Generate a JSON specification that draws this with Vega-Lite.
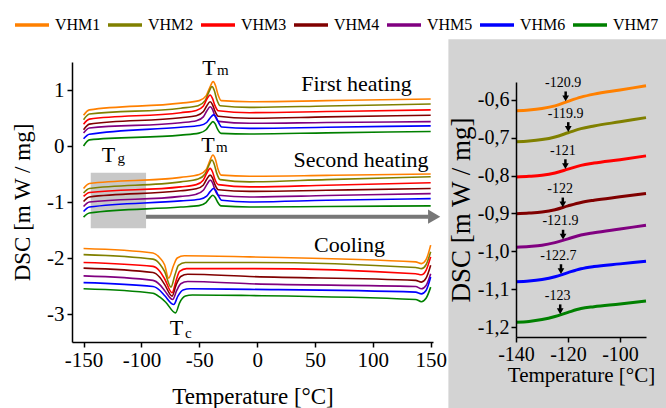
{
"$schema": "https://vega.github.io/schema/vega-lite/v6.json",
"autosize": {"type": "none"},
"padding": {"left": 72, "top": 62, "right": 594, "bottom": 346},
"config": {
  "view": {"stroke": null},
  "font": "Liberation Serif, serif",
  "style": {"guide-label": {"font": "Liberation Serif, serif"}, "guide-title": {"font": "Liberation Serif, serif"}},
  "axis": {"labelFont": "Liberation Serif, serif", "titleFont": "Liberation Serif, serif", "labelColor": "black", "titleColor": "black", "domainColor": "black", "tickColor": "black", "grid": false, "titleFontWeight": "normal", "domainWidth": 1.5, "tickWidth": 1.5, "labelFlush": false, "labelOverlap": false},
  "legend": {"labelFont": "Liberation Serif"},
  "text": {"font": "Liberation Serif, serif", "color": "black"}
},
"datasets": {
  "dsc": [
{"s":"VHM1","g":"h1","t":-150,"v":0.55},{"s":"VHM1","g":"h1","t":-145,"v":0.645},{"s":"VHM1","g":"h1","t":-66,"v":0.765},{"s":"VHM1","g":"h1","t":-50,"v":0.81},{"s":"VHM1","g":"h1","t":-44,"v":0.9},{"s":"VHM1","g":"h1","t":-41,"v":1.04},{"s":"VHM1","g":"h1","t":-38,"v":1.15},{"s":"VHM1","g":"h1","t":-36,"v":1.08},{"s":"VHM1","g":"h1","t":-34,"v":0.93},{"s":"VHM1","g":"h1","t":-31,"v":0.81},{"s":"VHM1","g":"h1","t":-6.5,"v":0.79},{"s":"VHM1","g":"h1","t":60,"v":0.81},{"s":"VHM1","g":"h1","t":150,"v":0.84},
{"s":"VHM2","g":"h1","t":-150,"v":0.47},{"s":"VHM2","g":"h1","t":-145,"v":0.57},{"s":"VHM2","g":"h1","t":-66,"v":0.675},{"s":"VHM2","g":"h1","t":-51,"v":0.72},{"s":"VHM2","g":"h1","t":-45,"v":0.81},{"s":"VHM2","g":"h1","t":-42,"v":0.95},{"s":"VHM2","g":"h1","t":-39,"v":1.06},{"s":"VHM2","g":"h1","t":-37,"v":0.99},{"s":"VHM2","g":"h1","t":-35,"v":0.84},{"s":"VHM2","g":"h1","t":-32,"v":0.72},{"s":"VHM2","g":"h1","t":-6.5,"v":0.69},{"s":"VHM2","g":"h1","t":60,"v":0.715},{"s":"VHM2","g":"h1","t":150,"v":0.75},
{"s":"VHM3","g":"h1","t":-150,"v":0.39},{"s":"VHM3","g":"h1","t":-145,"v":0.48},{"s":"VHM3","g":"h1","t":-66,"v":0.595},{"s":"VHM3","g":"h1","t":-52.6,"v":0.635},{"s":"VHM3","g":"h1","t":-46.6,"v":0.71},{"s":"VHM3","g":"h1","t":-43.6,"v":0.83},{"s":"VHM3","g":"h1","t":-40.6,"v":0.91},{"s":"VHM3","g":"h1","t":-38.6,"v":0.85},{"s":"VHM3","g":"h1","t":-36.6,"v":0.73},{"s":"VHM3","g":"h1","t":-33.6,"v":0.63},{"s":"VHM3","g":"h1","t":-6.5,"v":0.595},{"s":"VHM3","g":"h1","t":60,"v":0.615},{"s":"VHM3","g":"h1","t":150,"v":0.645},
{"s":"VHM4","g":"h1","t":-150,"v":0.29},{"s":"VHM4","g":"h1","t":-145,"v":0.39},{"s":"VHM4","g":"h1","t":-66,"v":0.505},{"s":"VHM4","g":"h1","t":-52.6,"v":0.54},{"s":"VHM4","g":"h1","t":-46.6,"v":0.61},{"s":"VHM4","g":"h1","t":-43.6,"v":0.715},{"s":"VHM4","g":"h1","t":-40.6,"v":0.79},{"s":"VHM4","g":"h1","t":-38.6,"v":0.74},{"s":"VHM4","g":"h1","t":-36.6,"v":0.63},{"s":"VHM4","g":"h1","t":-33.6,"v":0.53},{"s":"VHM4","g":"h1","t":-6.5,"v":0.495},{"s":"VHM4","g":"h1","t":60,"v":0.52},{"s":"VHM4","g":"h1","t":150,"v":0.55},
{"s":"VHM5","g":"h1","t":-150,"v":0.23},{"s":"VHM5","g":"h1","t":-145,"v":0.32},{"s":"VHM5","g":"h1","t":-66,"v":0.415},{"s":"VHM5","g":"h1","t":-52.5,"v":0.45},{"s":"VHM5","g":"h1","t":-46.5,"v":0.52},{"s":"VHM5","g":"h1","t":-43.5,"v":0.625},{"s":"VHM5","g":"h1","t":-40.5,"v":0.7},{"s":"VHM5","g":"h1","t":-38.5,"v":0.65},{"s":"VHM5","g":"h1","t":-36.5,"v":0.54},{"s":"VHM5","g":"h1","t":-33.5,"v":0.44},{"s":"VHM5","g":"h1","t":-6.5,"v":0.405},{"s":"VHM5","g":"h1","t":60,"v":0.42},{"s":"VHM5","g":"h1","t":150,"v":0.435},
{"s":"VHM6","g":"h1","t":-150,"v":0.13},{"s":"VHM6","g":"h1","t":-145,"v":0.21},{"s":"VHM6","g":"h1","t":-66,"v":0.335},{"s":"VHM6","g":"h1","t":-49.6,"v":0.365},{"s":"VHM6","g":"h1","t":-43.6,"v":0.42},{"s":"VHM6","g":"h1","t":-40.6,"v":0.5},{"s":"VHM6","g":"h1","t":-37.6,"v":0.555},{"s":"VHM6","g":"h1","t":-35.6,"v":0.52},{"s":"VHM6","g":"h1","t":-33.6,"v":0.43},{"s":"VHM6","g":"h1","t":-30.6,"v":0.34},{"s":"VHM6","g":"h1","t":-6.5,"v":0.315},{"s":"VHM6","g":"h1","t":60,"v":0.335},{"s":"VHM6","g":"h1","t":150,"v":0.36},
{"s":"VHM7","g":"h1","t":-150,"v":0.0},{"s":"VHM7","g":"h1","t":-145,"v":0.11},{"s":"VHM7","g":"h1","t":-66,"v":0.195},{"s":"VHM7","g":"h1","t":-50.2,"v":0.23},{"s":"VHM7","g":"h1","t":-44.2,"v":0.29},{"s":"VHM7","g":"h1","t":-41.2,"v":0.37},{"s":"VHM7","g":"h1","t":-38.2,"v":0.435},{"s":"VHM7","g":"h1","t":-36.2,"v":0.395},{"s":"VHM7","g":"h1","t":-34.2,"v":0.3},{"s":"VHM7","g":"h1","t":-31.2,"v":0.225},{"s":"VHM7","g":"h1","t":-6.5,"v":0.215},{"s":"VHM7","g":"h1","t":60,"v":0.235},{"s":"VHM7","g":"h1","t":150,"v":0.26},
{"s":"VHM1","g":"h2","t":-150,"v":-0.76},{"s":"VHM1","g":"h2","t":-145,"v":-0.67},{"s":"VHM1","g":"h2","t":-66,"v":-0.56},{"s":"VHM1","g":"h2","t":-50,"v":-0.51},{"s":"VHM1","g":"h2","t":-44,"v":-0.42},{"s":"VHM1","g":"h2","t":-41,"v":-0.27},{"s":"VHM1","g":"h2","t":-38.2,"v":-0.16},{"s":"VHM1","g":"h2","t":-36,"v":-0.24},{"s":"VHM1","g":"h2","t":-34,"v":-0.4},{"s":"VHM1","g":"h2","t":-31,"v":-0.52},{"s":"VHM1","g":"h2","t":-6.5,"v":-0.54},{"s":"VHM1","g":"h2","t":60,"v":-0.525},{"s":"VHM1","g":"h2","t":150,"v":-0.5},
{"s":"VHM2","g":"h2","t":-150,"v":-0.84},{"s":"VHM2","g":"h2","t":-145,"v":-0.76},{"s":"VHM2","g":"h2","t":-66,"v":-0.64},{"s":"VHM2","g":"h2","t":-51,"v":-0.59},{"s":"VHM2","g":"h2","t":-45,"v":-0.5},{"s":"VHM2","g":"h2","t":-42,"v":-0.36},{"s":"VHM2","g":"h2","t":-39,"v":-0.25},{"s":"VHM2","g":"h2","t":-37,"v":-0.33},{"s":"VHM2","g":"h2","t":-35,"v":-0.48},{"s":"VHM2","g":"h2","t":-32,"v":-0.6},{"s":"VHM2","g":"h2","t":-6.5,"v":-0.64},{"s":"VHM2","g":"h2","t":60,"v":-0.6},{"s":"VHM2","g":"h2","t":150,"v":-0.55},
{"s":"VHM3","g":"h2","t":-150,"v":-0.9},{"s":"VHM3","g":"h2","t":-145,"v":-0.83},{"s":"VHM3","g":"h2","t":-66,"v":-0.73},{"s":"VHM3","g":"h2","t":-52.6,"v":-0.69},{"s":"VHM3","g":"h2","t":-46.6,"v":-0.61},{"s":"VHM3","g":"h2","t":-43.6,"v":-0.49},{"s":"VHM3","g":"h2","t":-40.6,"v":-0.4},{"s":"VHM3","g":"h2","t":-38.6,"v":-0.46},{"s":"VHM3","g":"h2","t":-36.6,"v":-0.59},{"s":"VHM3","g":"h2","t":-33.6,"v":-0.69},{"s":"VHM3","g":"h2","t":-6.5,"v":-0.73},{"s":"VHM3","g":"h2","t":60,"v":-0.7},{"s":"VHM3","g":"h2","t":150,"v":-0.655},
{"s":"VHM4","g":"h2","t":-150,"v":-0.99},{"s":"VHM4","g":"h2","t":-145,"v":-0.91},{"s":"VHM4","g":"h2","t":-66,"v":-0.8},{"s":"VHM4","g":"h2","t":-52.6,"v":-0.765},{"s":"VHM4","g":"h2","t":-46.6,"v":-0.7},{"s":"VHM4","g":"h2","t":-43.6,"v":-0.595},{"s":"VHM4","g":"h2","t":-40.6,"v":-0.52},{"s":"VHM4","g":"h2","t":-38.6,"v":-0.57},{"s":"VHM4","g":"h2","t":-36.6,"v":-0.68},{"s":"VHM4","g":"h2","t":-33.6,"v":-0.78},{"s":"VHM4","g":"h2","t":-6.5,"v":-0.81},{"s":"VHM4","g":"h2","t":60,"v":-0.79},{"s":"VHM4","g":"h2","t":150,"v":-0.76},
{"s":"VHM5","g":"h2","t":-150,"v":-1.08},{"s":"VHM5","g":"h2","t":-145,"v":-1.0},{"s":"VHM5","g":"h2","t":-66,"v":-0.9},{"s":"VHM5","g":"h2","t":-52.5,"v":-0.86},{"s":"VHM5","g":"h2","t":-46.5,"v":-0.79},{"s":"VHM5","g":"h2","t":-43.5,"v":-0.69},{"s":"VHM5","g":"h2","t":-40.5,"v":-0.61},{"s":"VHM5","g":"h2","t":-38.5,"v":-0.66},{"s":"VHM5","g":"h2","t":-36.5,"v":-0.78},{"s":"VHM5","g":"h2","t":-33.5,"v":-0.88},{"s":"VHM5","g":"h2","t":-6.5,"v":-0.91},{"s":"VHM5","g":"h2","t":60,"v":-0.885},{"s":"VHM5","g":"h2","t":150,"v":-0.85},
{"s":"VHM6","g":"h2","t":-150,"v":-1.17},{"s":"VHM6","g":"h2","t":-145,"v":-1.09},{"s":"VHM6","g":"h2","t":-66,"v":-0.98},{"s":"VHM6","g":"h2","t":-49.6,"v":-0.95},{"s":"VHM6","g":"h2","t":-43.6,"v":-0.895},{"s":"VHM6","g":"h2","t":-40.6,"v":-0.815},{"s":"VHM6","g":"h2","t":-37.6,"v":-0.76},{"s":"VHM6","g":"h2","t":-35.6,"v":-0.8},{"s":"VHM6","g":"h2","t":-33.6,"v":-0.885},{"s":"VHM6","g":"h2","t":-30.6,"v":-0.97},{"s":"VHM6","g":"h2","t":-6.5,"v":-1.0},{"s":"VHM6","g":"h2","t":60,"v":-0.97},{"s":"VHM6","g":"h2","t":150,"v":-0.94},
{"s":"VHM7","g":"h2","t":-150,"v":-1.27},{"s":"VHM7","g":"h2","t":-145,"v":-1.195},{"s":"VHM7","g":"h2","t":-66,"v":-1.09},{"s":"VHM7","g":"h2","t":-50.2,"v":-1.065},{"s":"VHM7","g":"h2","t":-44.2,"v":-1.01},{"s":"VHM7","g":"h2","t":-41.2,"v":-0.935},{"s":"VHM7","g":"h2","t":-38.2,"v":-0.88},{"s":"VHM7","g":"h2","t":-36.2,"v":-0.92},{"s":"VHM7","g":"h2","t":-34.2,"v":-1.0},{"s":"VHM7","g":"h2","t":-31.2,"v":-1.07},{"s":"VHM7","g":"h2","t":-6.5,"v":-1.09},{"s":"VHM7","g":"h2","t":60,"v":-1.08},{"s":"VHM7","g":"h2","t":150,"v":-1.07},
{"s":"VHM1","g":"c","t":-150,"v":-1.83},{"s":"VHM1","g":"c","t":-90,"v":-1.91},{"s":"VHM1","g":"c","t":-84,"v":-2.0},{"s":"VHM1","g":"c","t":-80,"v":-2.12},{"s":"VHM1","g":"c","t":-76.5,"v":-2.36},{"s":"VHM1","g":"c","t":-72,"v":-2.12},{"s":"VHM1","g":"c","t":-69,"v":-2.0},{"s":"VHM1","g":"c","t":-63,"v":-1.96},{"s":"VHM1","g":"c","t":-6.5,"v":-1.98},{"s":"VHM1","g":"c","t":137,"v":-2.07},{"s":"VHM1","g":"c","t":142,"v":-2.1},{"s":"VHM1","g":"c","t":146,"v":-2.03},{"s":"VHM1","g":"c","t":150,"v":-1.77},
{"s":"VHM2","g":"c","t":-150,"v":-1.94},{"s":"VHM2","g":"c","t":-90,"v":-2.02},{"s":"VHM2","g":"c","t":-84,"v":-2.11},{"s":"VHM2","g":"c","t":-80,"v":-2.24},{"s":"VHM2","g":"c","t":-74.5,"v":-2.52},{"s":"VHM2","g":"c","t":-71,"v":-2.3},{"s":"VHM2","g":"c","t":-68,"v":-2.13},{"s":"VHM2","g":"c","t":-62,"v":-2.08},{"s":"VHM2","g":"c","t":-6.5,"v":-2.08},{"s":"VHM2","g":"c","t":137,"v":-2.17},{"s":"VHM2","g":"c","t":142,"v":-2.19},{"s":"VHM2","g":"c","t":146,"v":-2.12},{"s":"VHM2","g":"c","t":150,"v":-1.89},
{"s":"VHM3","g":"c","t":-150,"v":-2.08},{"s":"VHM3","g":"c","t":-90,"v":-2.15},{"s":"VHM3","g":"c","t":-84,"v":-2.24},{"s":"VHM3","g":"c","t":-80,"v":-2.37},{"s":"VHM3","g":"c","t":-73.5,"v":-2.62},{"s":"VHM3","g":"c","t":-70,"v":-2.4},{"s":"VHM3","g":"c","t":-67,"v":-2.24},{"s":"VHM3","g":"c","t":-61,"v":-2.19},{"s":"VHM3","g":"c","t":-6.5,"v":-2.19},{"s":"VHM3","g":"c","t":137,"v":-2.28},{"s":"VHM3","g":"c","t":142,"v":-2.3},{"s":"VHM3","g":"c","t":146,"v":-2.22},{"s":"VHM3","g":"c","t":150,"v":-1.98},
{"s":"VHM4","g":"c","t":-150,"v":-2.18},{"s":"VHM4","g":"c","t":-90,"v":-2.26},{"s":"VHM4","g":"c","t":-84,"v":-2.35},{"s":"VHM4","g":"c","t":-80,"v":-2.47},{"s":"VHM4","g":"c","t":-73.5,"v":-2.68},{"s":"VHM4","g":"c","t":-70,"v":-2.48},{"s":"VHM4","g":"c","t":-66,"v":-2.33},{"s":"VHM4","g":"c","t":-60,"v":-2.29},{"s":"VHM4","g":"c","t":-6.5,"v":-2.33},{"s":"VHM4","g":"c","t":137,"v":-2.4},{"s":"VHM4","g":"c","t":142,"v":-2.43},{"s":"VHM4","g":"c","t":146,"v":-2.36},{"s":"VHM4","g":"c","t":150,"v":-2.13},
{"s":"VHM5","g":"c","t":-150,"v":-2.32},{"s":"VHM5","g":"c","t":-90,"v":-2.4},{"s":"VHM5","g":"c","t":-84,"v":-2.48},{"s":"VHM5","g":"c","t":-80,"v":-2.58},{"s":"VHM5","g":"c","t":-73,"v":-2.74},{"s":"VHM5","g":"c","t":-69.5,"v":-2.58},{"s":"VHM5","g":"c","t":-66,"v":-2.46},{"s":"VHM5","g":"c","t":-60,"v":-2.42},{"s":"VHM5","g":"c","t":-6.5,"v":-2.46},{"s":"VHM5","g":"c","t":137,"v":-2.51},{"s":"VHM5","g":"c","t":142,"v":-2.55},{"s":"VHM5","g":"c","t":146,"v":-2.49},{"s":"VHM5","g":"c","t":150,"v":-2.28},
{"s":"VHM6","g":"c","t":-150,"v":-2.44},{"s":"VHM6","g":"c","t":-90,"v":-2.51},{"s":"VHM6","g":"c","t":-84,"v":-2.58},{"s":"VHM6","g":"c","t":-80,"v":-2.67},{"s":"VHM6","g":"c","t":-72,"v":-2.83},{"s":"VHM6","g":"c","t":-68.5,"v":-2.68},{"s":"VHM6","g":"c","t":-64,"v":-2.57},{"s":"VHM6","g":"c","t":-58,"v":-2.55},{"s":"VHM6","g":"c","t":-6.5,"v":-2.56},{"s":"VHM6","g":"c","t":137,"v":-2.61},{"s":"VHM6","g":"c","t":142,"v":-2.64},{"s":"VHM6","g":"c","t":146,"v":-2.58},{"s":"VHM6","g":"c","t":150,"v":-2.34},
{"s":"VHM7","g":"c","t":-150,"v":-2.55},{"s":"VHM7","g":"c","t":-90,"v":-2.63},{"s":"VHM7","g":"c","t":-84,"v":-2.7},{"s":"VHM7","g":"c","t":-79,"v":-2.79},{"s":"VHM7","g":"c","t":-70.5,"v":-2.98},{"s":"VHM7","g":"c","t":-67,"v":-2.8},{"s":"VHM7","g":"c","t":-62,"v":-2.68},{"s":"VHM7","g":"c","t":-56,"v":-2.66},{"s":"VHM7","g":"c","t":-6.5,"v":-2.67},{"s":"VHM7","g":"c","t":137,"v":-2.74},{"s":"VHM7","g":"c","t":142,"v":-2.78},{"s":"VHM7","g":"c","t":146,"v":-2.72},{"s":"VHM7","g":"c","t":150,"v":-2.52}
  ],
  "tg": [
{"s":"VHM1","t":-140,"v":-0.629},{"s":"VHM1","t":-135,"v":-0.627},{"s":"VHM1","t":-130,"v":-0.623},{"s":"VHM1","t":-125,"v":-0.616},{"s":"VHM1","t":-120,"v":-0.604},{"s":"VHM1","t":-115,"v":-0.593},{"s":"VHM1","t":-110,"v":-0.585},{"s":"VHM1","t":-100,"v":-0.574},{"s":"VHM1","t":-90,"v":-0.563},
{"s":"VHM2","t":-140,"v":-0.711},{"s":"VHM2","t":-135,"v":-0.709},{"s":"VHM2","t":-130,"v":-0.705},{"s":"VHM2","t":-125,"v":-0.698},{"s":"VHM2","t":-120,"v":-0.687},{"s":"VHM2","t":-115,"v":-0.676},{"s":"VHM2","t":-110,"v":-0.669},{"s":"VHM2","t":-100,"v":-0.658},{"s":"VHM2","t":-90,"v":-0.647},
{"s":"VHM3","t":-140,"v":-0.804},{"s":"VHM3","t":-135,"v":-0.802},{"s":"VHM3","t":-130,"v":-0.799},{"s":"VHM3","t":-125,"v":-0.793},{"s":"VHM3","t":-120,"v":-0.783},{"s":"VHM3","t":-115,"v":-0.773},{"s":"VHM3","t":-110,"v":-0.767},{"s":"VHM3","t":-100,"v":-0.758},{"s":"VHM3","t":-90,"v":-0.748},
{"s":"VHM4","t":-140,"v":-0.901},{"s":"VHM4","t":-135,"v":-0.899},{"s":"VHM4","t":-130,"v":-0.896},{"s":"VHM4","t":-125,"v":-0.89},{"s":"VHM4","t":-120,"v":-0.88},{"s":"VHM4","t":-115,"v":-0.871},{"s":"VHM4","t":-110,"v":-0.865},{"s":"VHM4","t":-100,"v":-0.856},{"s":"VHM4","t":-90,"v":-0.847},
{"s":"VHM5","t":-140,"v":-0.989},{"s":"VHM5","t":-135,"v":-0.987},{"s":"VHM5","t":-130,"v":-0.984},{"s":"VHM5","t":-125,"v":-0.977},{"s":"VHM5","t":-120,"v":-0.967},{"s":"VHM5","t":-115,"v":-0.957},{"s":"VHM5","t":-110,"v":-0.951},{"s":"VHM5","t":-100,"v":-0.941},{"s":"VHM5","t":-90,"v":-0.931},
{"s":"VHM6","t":-140,"v":-1.08},{"s":"VHM6","t":-135,"v":-1.078},{"s":"VHM6","t":-130,"v":-1.074},{"s":"VHM6","t":-125,"v":-1.067},{"s":"VHM6","t":-120,"v":-1.056},{"s":"VHM6","t":-115,"v":-1.046},{"s":"VHM6","t":-110,"v":-1.04},{"s":"VHM6","t":-100,"v":-1.033},{"s":"VHM6","t":-90,"v":-1.026},
{"s":"VHM7","t":-140,"v":-1.187},{"s":"VHM7","t":-135,"v":-1.185},{"s":"VHM7","t":-130,"v":-1.18},{"s":"VHM7","t":-125,"v":-1.172},{"s":"VHM7","t":-120,"v":-1.161},{"s":"VHM7","t":-115,"v":-1.151},{"s":"VHM7","t":-110,"v":-1.146},{"s":"VHM7","t":-100,"v":-1.139},{"s":"VHM7","t":-90,"v":-1.131}
  ],
  "stems": [
{"t":-120.9,"v":-0.578,"v2":-0.596},{"t":-119.9,"v":-0.659,"v2":-0.677},{"t":-121,"v":-0.757,"v2":-0.775},{"t":-122,"v":-0.858,"v2":-0.876},{"t":-121.9,"v":-0.943,"v2":-0.961},{"t":-122.7,"v":-1.034,"v2":-1.052},{"t":-123,"v":-1.14,"v2":-1.158}
  ],
  "heads": [
{"t":-120.9,"v":-0.596},{"t":-119.9,"v":-0.677},{"t":-121,"v":-0.775},{"t":-122,"v":-0.876},{"t":-121.9,"v":-0.961},{"t":-122.7,"v":-1.052},{"t":-123,"v":-1.158}
  ],
  "tglabels": [
{"t":-121.9,"v":-0.556,"lab":"-120.9"},{"t":-120.9,"v":-0.637,"lab":"-119.9"},{"t":-122,"v":-0.735,"lab":"-121"},{"t":-123,"v":-0.836,"lab":"-122"},{"t":-122.9,"v":-0.921,"lab":"-121.9"},{"t":-123.7,"v":-1.012,"lab":"-122.7"},{"t":-124,"v":-1.118,"lab":"-123"}
  ]
},
"bounds": "flush",
"spacing": 83,
"resolve": {"scale": {"color": "independent"}, "legend": {"color": "independent"}},
"hconcat": [
  {
    "width": 361,
    "height": 280,
    "encoding": {
      "x": {"field": "t", "type": "quantitative", "scale": {"domain": [-160, 152], "nice": false, "zero": false},
            "axis": {"zindex": 1, "values": [-150, -100, -50, 0, 50, 100, 150], "title": "Temperature [°C]", "labelExpr": "replace(datum.label, '\u2212', '-')", "labelFontSize": 21, "titleFontSize": 23, "tickSize": 5, "labelPadding": 2, "titlePadding": 15}},
      "y": {"field": "v", "type": "quantitative", "scale": {"domain": [-3.5, 1.5], "nice": false, "zero": false},
            "axis": {"zindex": 1, "values": [-3, -2, -1, 0, 1], "title": "DSC [m W / mg]", "labelExpr": "replace(datum.label, '\u2212', '-')", "labelFontSize": 21, "titleFontSize": 23, "tickSize": 5, "labelPadding": 3, "titlePadding": 12}}
    },
    "layer": [
      {"data": {"values": [{"t": -143.8, "t2": -96, "v": -0.477, "v2": -1.47}]},
       "mark": {"type": "rect", "color": "#c8c8c8"},
       "encoding": {"x2": {"field": "t2"}, "y2": {"field": "v2"}}},
      {"data": {"name": "dsc"},
       "mark": {"type": "line", "strokeWidth": 1.6, "interpolate": "monotone"},
       "encoding": {
         "color": {"field": "s", "type": "nominal",
                   "scale": {"domain": ["VHM1","VHM2","VHM3","VHM4","VHM5","VHM6","VHM7"], "range": ["#ff8000","#808000","#ff0000","#800000","#800080","#0000ff","#008000"]},
                   "legend": {"orient": "none", "legendX": -59, "legendY": -56, "direction": "horizontal", "columns": 7, "title": null, "symbolType": "stroke", "symbolSize": 1156, "symbolStrokeWidth": 3.5, "labelFontSize": 16, "labelFont": "Liberation Serif", "labelColor": "black", "labelOffset": 4, "columnPadding": 0, "padding": 0}},
         "detail": {"field": "g"}
       }},
      {"data": {"values": [{"t": -96, "t2": 148, "v": -1.262}]},
       "mark": {"type": "rule", "color": "#777777", "strokeWidth": 4},
       "encoding": {"x2": {"field": "t2"}}},
      {"data": {"values": [{"t": 153, "v": -1.262}]},
       "mark": {"type": "point", "shape": "triangle-right", "filled": true, "color": "#777777", "size": 200, "opacity": 1},
       "encoding": {}},
      {"data": {"values": [{"t": 85.9, "v": 0.9875, "lab": "First heating"}, {"t": 89.8, "v": -0.38, "lab": "Second heating"}, {"t": 79.8, "v": -1.887, "lab": "Cooling"}]},
       "mark": {"type": "text", "fontSize": 22, "align": "center", "baseline": "alphabetic"},
       "encoding": {"text": {"field": "lab"}}},
      {"data": {"values": [{"t": -41.6, "v": 1.268, "lab": "T"}, {"t": -42.5, "v": -0.107, "lab": "T"}, {"t": -128.5, "v": -0.286, "lab": "T"}, {"t": -69.7, "v": -3.375, "lab": "T"}]},
       "mark": {"type": "text", "fontSize": 22, "align": "center", "baseline": "alphabetic"},
       "encoding": {"text": {"field": "lab"}}},
      {"data": {"values": [{"t": -29.6, "v": 1.268, "lab": "m"}, {"t": -30.5, "v": -0.107, "lab": "m"}, {"t": -117.5, "v": -0.30, "lab": "g"}, {"t": -59.5, "v": -3.42, "lab": "c"}]},
       "mark": {"type": "text", "fontSize": 15, "align": "center", "baseline": "alphabetic"},
       "encoding": {"text": {"field": "lab"}}}
    ]
  },
  {
    "bounds": "flush",
    "spacing": 0,
    "vconcat": [
      {"width": 130, "height": 20, "data": {"values": [{"lab": ""}]}, "mark": {"type": "text", "text": ""}},
      {
        "width": 130,
        "height": 255,
        "encoding": {
          "x": {"field": "t", "type": "quantitative", "scale": {"domain": [-140, -90], "nice": false, "zero": false},
                "axis": {"zindex": 1, "values": [-140, -120, -100], "title": "Temperature [°C]", "labelExpr": "replace(datum.label, '\u2212', '-')", "labelFontSize": 20, "titleFontSize": 21, "tickSize": 5, "labelPadding": 2, "titlePadding": 0}},
          "y": {"field": "v", "type": "quantitative", "scale": {"domain": [-1.226, -0.553], "nice": false, "zero": false},
                "axis": {"zindex": 1, "values": [-1.2, -1.1, -1.0, -0.9, -0.8, -0.7, -0.6], "format": ".1f", "title": "DSC [m W / mg]", "labelExpr": "replace(replace(datum.label, '\u2212', '-'), '.', ',')", "labelFontSize": 20, "titleFontSize": 27, "tickSize": 5, "labelPadding": 2, "titlePadding": 2}}
        },
        "layer": [
          {"data": {"values": [{"t": -166, "t2": -80, "v": -0.44, "v2": -1.45}]},
           "mark": {"type": "rect", "color": "#d3d3d3"},
           "encoding": {"x2": {"field": "t2"}, "y2": {"field": "v2"}}},
          {"data": {"name": "tg"},
           "mark": {"type": "line", "strokeWidth": 3, "interpolate": "monotone"},
           "encoding": {
             "color": {"field": "s", "type": "nominal",
                       "scale": {"domain": ["VHM1","VHM2","VHM3","VHM4","VHM5","VHM6","VHM7"], "range": ["#ff8000","#808000","#ff0000","#800000","#800080","#0000ff","#008000"]},
                       "legend": null}
           }},
          {"data": {"name": "stems"},
           "mark": {"type": "rule", "color": "black", "strokeWidth": 2.5},
           "encoding": {"y2": {"field": "v2"}}},
          {"data": {"name": "heads"},
           "mark": {"type": "point", "shape": "triangle-down", "filled": true, "color": "black", "size": 45, "opacity": 1},
           "encoding": {}},
          {"data": {"name": "tglabels"},
           "mark": {"type": "text", "fontSize": 14, "align": "center", "baseline": "middle"},
           "encoding": {"text": {"field": "lab"}}}
        ]
      }
    ]
  }
]
}
